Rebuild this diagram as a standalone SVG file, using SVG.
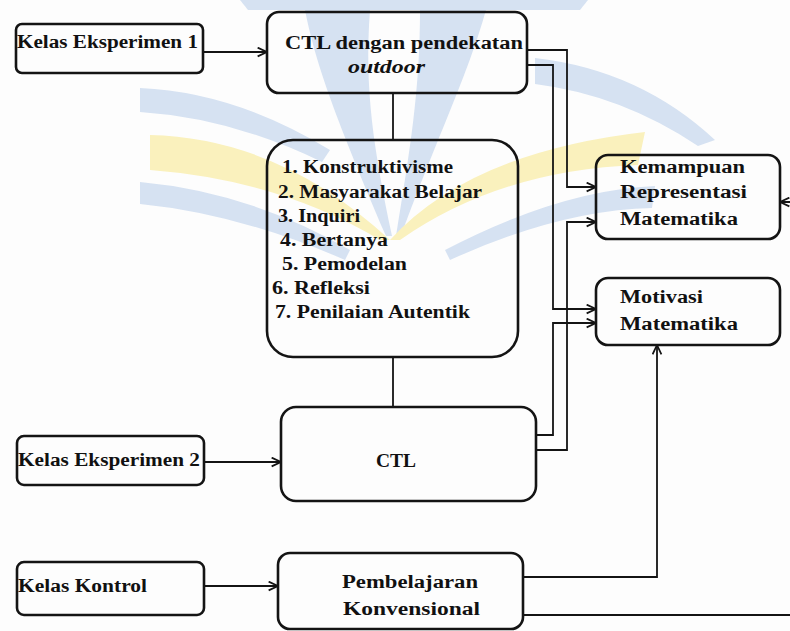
<svg xmlns="http://www.w3.org/2000/svg" width="790" height="631" viewBox="0 0 790 631">
<style>
.box{fill:none;stroke:#141414;stroke-width:2.6}
.lbl{font-weight:bold;font-size:18px;fill:#111}
.con{fill:none;stroke:#141414;stroke-width:1.8}
.wb{fill:#d6e2f2}
.wy{fill:#faf1bd}
</style>
<defs>
<marker id="arr" viewBox="0 0 10 10" refX="9.5" refY="5" markerWidth="11" markerHeight="11" markerUnits="userSpaceOnUse" orient="auto">
<path d="M1,1 L9.5,5 L1,9" fill="none" stroke="#141414" stroke-width="1.6"/>
</marker>
</defs>
<rect width="790" height="631" fill="#fdfdfd"/>
<g id="watermark">
<path class="wb" d="M240,0 H588 L580,10 H248 Z"/>
<path class="wb" d="M305,10 C315,60 332,110 386,236 L392,236 C374,150 364,90 370,10 Z"/>
<path class="wb" d="M420,10 C420,90 410,150 396,236 L401,236 C440,130 466,80 486,10 Z"/>
<path class="wb" d="M140,88 Q235,92 330,150 L322,162 Q232,118 140,112 Z"/>
<path class="wb" d="M140,182 Q250,192 350,250 L345,260 Q240,214 140,204 Z"/>
<path class="wb" d="M535,58 Q640,70 715,140 L698,146 Q622,95 535,84 Z"/>
<path class="wb" d="M445,250 Q560,190 655,186 L652,208 Q560,210 450,260 Z"/>
<path class="wy" d="M150,135 Q280,138 390,240 L380,240 Q280,180 150,170 Z"/>
<path class="wy" d="M390,240 Q470,152 645,132 L638,165 Q500,170 400,240 Z"/>
</g>
<g id="connectors">
<path class="con" d="M203,52 H267" marker-end="url(#arr)"/>
<path class="con" d="M527,50 H567 V187 H596" marker-end="url(#arr)"/>
<path class="con" d="M527,65 H553 V309 H596" marker-end="url(#arr)"/>
<path class="con" d="M393,93 V140"/>
<path class="con" d="M393,357 V407"/>
<path class="con" d="M204,462 H281" marker-end="url(#arr)"/>
<path class="con" d="M536,450 H567 V222 H596" marker-end="url(#arr)"/>
<path class="con" d="M536,435 H553 V323 H596" marker-end="url(#arr)"/>
<path class="con" d="M204,586 H278" marker-end="url(#arr)"/>
<path class="con" d="M523,577 H657 V345" marker-end="url(#arr)"/>
<path class="con" d="M523,615 H805 V202 H780" marker-end="url(#arr)"/>
</g>
<g font-family="'Liberation Serif', 'Times New Roman', 'DejaVu Serif', serif">
<g id="kelas-eksperimen-1">
<rect class="box" x="16" y="24" width="187" height="49" rx="6"/>
<text class="lbl" x="17" y="48" textLength="181" lengthAdjust="spacingAndGlyphs">Kelas Eksperimen 1</text>
</g>
<g id="ctl-outdoor">
<rect class="box" x="267" y="12" width="260" height="81" rx="12"/>
<text class="lbl" x="285" y="49" font-size="22" textLength="238" lengthAdjust="spacingAndGlyphs">CTL dengan pendekatan</text>
<text class="lbl" x="348" y="73" font-style="italic" textLength="77" lengthAdjust="spacingAndGlyphs">outdoor</text>
</g>
<g id="komponen-ctl">
<rect class="box" x="267" y="140" width="251" height="217" rx="26"/>
<text class="lbl" x="282" y="173" textLength="171" lengthAdjust="spacingAndGlyphs">1. Konstruktivisme</text>
<text class="lbl" x="278" y="198" textLength="204" lengthAdjust="spacingAndGlyphs">2. Masyarakat Belajar</text>
<text class="lbl" x="278" y="222" textLength="82" lengthAdjust="spacingAndGlyphs">3. Inquiri</text>
<text class="lbl" x="280" y="246" textLength="108" lengthAdjust="spacingAndGlyphs">4. Bertanya</text>
<text class="lbl" x="282" y="270" textLength="125" lengthAdjust="spacingAndGlyphs">5. Pemodelan</text>
<text class="lbl" x="272" y="294" textLength="98" lengthAdjust="spacingAndGlyphs">6. Refleksi</text>
<text class="lbl" x="275" y="318" textLength="195" lengthAdjust="spacingAndGlyphs">7. Penilaian Autentik</text>
</g>
<g id="kemampuan-representasi">
<rect class="box" x="596" y="155" width="184" height="84" rx="12"/>
<text class="lbl" x="620" y="173" textLength="125" lengthAdjust="spacingAndGlyphs">Kemampuan</text>
<text class="lbl" x="620" y="198" textLength="127" lengthAdjust="spacingAndGlyphs">Representasi</text>
<text class="lbl" x="620" y="225" textLength="118" lengthAdjust="spacingAndGlyphs">Matematika</text>
</g>
<g id="motivasi">
<rect class="box" x="596" y="278" width="184" height="67" rx="12"/>
<text class="lbl" x="620" y="303" textLength="83" lengthAdjust="spacingAndGlyphs">Motivasi</text>
<text class="lbl" x="620" y="330" textLength="118" lengthAdjust="spacingAndGlyphs">Matematika</text>
</g>
<g id="kelas-eksperimen-2">
<rect class="box" x="17" y="436" width="187" height="49" rx="7"/>
<text class="lbl" x="18" y="466" textLength="182" lengthAdjust="spacingAndGlyphs">Kelas Eksperimen 2</text>
</g>
<g id="ctl">
<rect class="box" x="281" y="407" width="255" height="94" rx="15"/>
<text class="lbl" x="376" y="467" textLength="40" lengthAdjust="spacingAndGlyphs">CTL</text>
</g>
<g id="kelas-kontrol">
<rect class="box" x="17" y="562" width="187" height="53" rx="7"/>
<text class="lbl" x="18" y="592" textLength="129" lengthAdjust="spacingAndGlyphs">Kelas Kontrol</text>
</g>
<g id="pembelajaran-konvensional">
<rect class="box" x="278" y="553" width="245" height="76" rx="12"/>
<text class="lbl" x="342" y="588" textLength="136" lengthAdjust="spacingAndGlyphs">Pembelajaran</text>
<text class="lbl" x="343" y="615" textLength="137" lengthAdjust="spacingAndGlyphs">Konvensional</text>
</g>
</g>
</svg>
